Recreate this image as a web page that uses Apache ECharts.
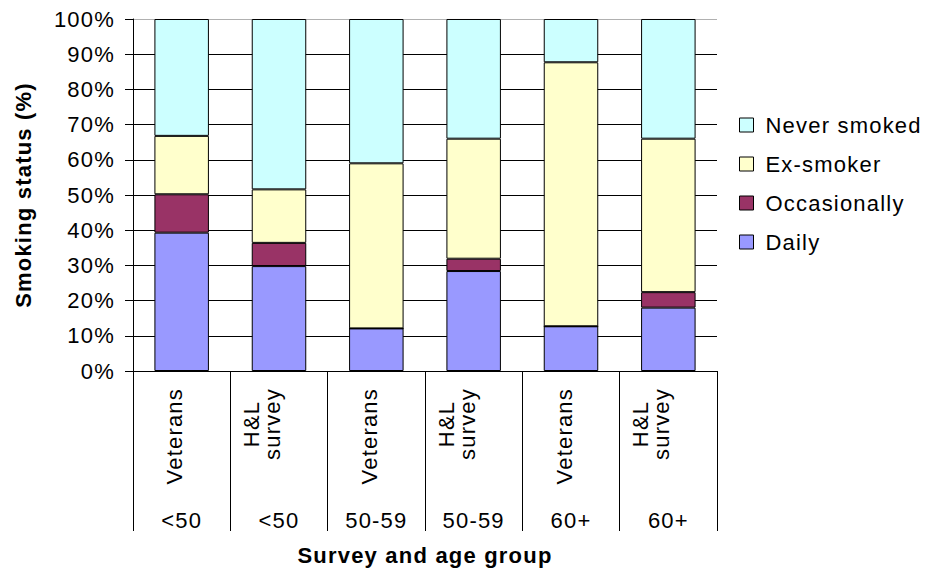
<!DOCTYPE html>
<html>
<head>
<meta charset="utf-8">
<script src="https://cdn.jsdelivr.net/npm/echarts@6/dist/echarts.min.js"></script>
<style>
html,body{margin:0;padding:0;background:#fff;}
#c{width:930px;height:572px;}
#c svg text{letter-spacing:1.2px;}
</style>
</head>
<body>
<div id="c"></div>
<script>
var surveys = ['Veterans', 'H&L\nsurvey', 'Veterans', 'H&L\nsurvey', 'Veterans', 'H&L\nsurvey'];
var ageGroups = ['<50', '<50', '50-59', '50-59', '60+', '60+'];
var daily = [39.3, 29.8, 12.1, 28.4, 12.7, 18.0];
var occasionally = [10.9, 6.6, 0, 3.5, 0, 4.4];
var exSmoker = [16.6, 15.2, 46.9, 34.1, 75.0, 43.6];
var neverSmoked = [33.2, 48.4, 41.0, 34.0, 12.3, 34.0];
var yTicks = [0, 10, 20, 30, 40, 50, 60, 70, 80, 90, 100];

var FONT = 'Liberation Sans, Arial, sans-serif';
var chart = echarts.init(document.getElementById('c'), null, {renderer: 'svg'});
var gridColors = yTicks.map(function (v) { return v === 100 ? '#b0b0b0' : '#000'; });

function mk(name, data, color) {
  return {
    name: name, type: 'bar', stack: 'total', data: data,
    barWidth: '56%', xAxisIndex: 0,
    itemStyle: {color: color, borderColor: '#000', borderWidth: 1},
    emphasis: {disabled: true}
  };
}

chart.setOption({
  animation: false,
  backgroundColor: '#fff',
  textStyle: {fontFamily: FONT},
  grid: {left: 133, right: 213, top: 19, bottom: 201, containLabel: false},
  legend: {
    orient: 'vertical', left: 734, top: 109,
    itemWidth: 14, itemHeight: 14, itemGap: 17,
    icon: 'rect',
    data: ['Never smoked', 'Ex-smoker', 'Occasionally', 'Daily'],
    textStyle: {fontFamily: FONT, fontSize: 22, color: '#000', padding: [0, 0, 0, 7]},
    itemStyle: {borderColor: '#000', borderWidth: 1}
  },
  xAxis: [{
    type: 'category', data: surveys, position: 'bottom',
    name: 'Survey and age group', nameLocation: 'middle', nameGap: 173,
    nameTextStyle: {fontFamily: FONT, fontSize: 22, fontWeight: 'bold', color: '#000'},
    axisLine: {show: true, lineStyle: {color: '#000', width: 1}},
    axisTick: {show: true, length: 160, lineStyle: {color: '#000', width: 1}},
    axisLabel: {
      rotate: 90, margin: 17, verticalAlign: 'bottom', padding: [0, 0, -4, 0],
      fontFamily: FONT, fontSize: 22, color: '#000',
      formatter: function (v) {
        var lines = v.split('\n');
        if (lines.length === 1) return '{v|' + v + '}';
        return lines.map(function (l) { return '{h|' + l + '}'; }).join('\n');
      },
      rich: {
        v: {fontFamily: FONT, fontSize: 22, color: '#000', lineHeight: 22},
        h: {fontFamily: FONT, fontSize: 22, color: '#000', lineHeight: 21, width: 72, align: 'center'}
      }
    },
    splitLine: {show: false}
  }, {
    type: 'category', data: ageGroups, position: 'bottom',
    axisLine: {show: false}, axisTick: {show: false},
    axisLabel: {margin: 138, fontFamily: FONT, fontSize: 22, color: '#000'},
    splitLine: {show: false}
  }],
  yAxis: {
    type: 'value', min: 0, max: 100, interval: 10,
    name: 'Smoking status (%)', nameLocation: 'middle', nameGap: 99,
    nameTextStyle: {fontFamily: FONT, fontSize: 22, fontWeight: 'bold', color: '#000'},
    axisLine: {show: true, lineStyle: {color: '#000', width: 1}},
    axisTick: {show: true, length: 8, lineStyle: {color: '#000'}},
    axisLabel: {margin: 18, fontFamily: FONT, fontSize: 22, color: '#000', formatter: '{value}%'},
    splitLine: {show: true, lineStyle: {color: gridColors, width: 1}}
  },
  series: [
    mk('Daily', daily, '#9999FF'),
    mk('Occasionally', occasionally, '#993366'),
    mk('Ex-smoker', exSmoker, '#FFFFCC'),
    mk('Never smoked', neverSmoked, '#CCFFFF')
  ]
});
</script>
</body>
</html>
